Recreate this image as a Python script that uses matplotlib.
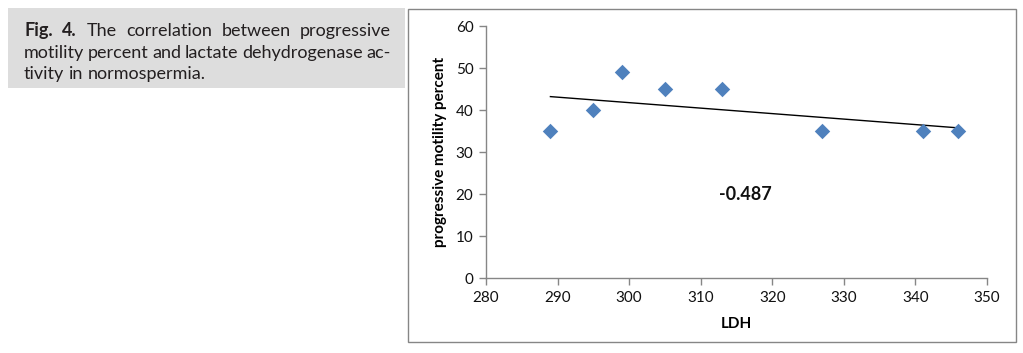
import numpy as np
import matplotlib.pyplot as plt
from matplotlib.patches import Rectangle

# ===================== DADOS =====================
ldh = [289, 295, 299, 305, 313, 327, 341, 346]
motility = [35, 40, 49, 45, 45, 35, 35, 35]
r_text = '-0.487'
x_ticks = [280, 290, 300, 310, 320, 330, 340, 350]
y_ticks = [0, 10, 20, 30, 40, 50, 60]

caption_lines = [
    ['Fig.', '4.', 'The', 'correlation', 'between', 'progressive'],
    ['motility', 'percent', 'and', 'lactate', 'dehydrogenase', 'ac-'],
    ['tivity', 'in', 'normospermia.'],
]

W, H = 1023, 353
fig = plt.figure(figsize=(W / 100, H / 100), dpi=100)

def fx(px):
    return px / W

def fy(py):
    return 1 - py / H

# ===================== LEGENDA (caixa cinza) =====================
fig.patches.append(Rectangle((fx(8), fy(88)), fx(397), 80 / H,
                             transform=fig.transFigure, facecolor='#dddddd',
                             edgecolor='none', zorder=0))

cap_font = 'Lato'
cap_size = 13
x_left, x_right = 24, 391
baselines = [36, 58, 79]
renderer = fig.canvas.get_renderer()
for i, words in enumerate(caption_lines):
    texts = []
    for j, w in enumerate(words):
        bold = (i == 0 and j < 2)
        t = fig.text(0, fy(baselines[i]), w, fontsize=cap_size, family=cap_font,
                     fontweight='bold' if bold else 'normal', color='#231f20',
                     va='baseline', ha='left')
        texts.append(t)
    widths = [t.get_window_extent(renderer).width for t in texts]
    if i < 2:
        gap = (x_right - x_left - sum(widths)) / (len(words) - 1)
    else:
        gap = 4.5
    x = x_left
    for t, wd in zip(texts, widths):
        t.set_x(fx(x))
        x += wd + gap

# ===================== MOLDURA DO GRAFICO =====================
fig.patches.append(Rectangle((fx(408), fy(342)), fx(608), 333 / H,
                             transform=fig.transFigure, facecolor='none',
                             edgecolor='#868686', lw=1.0, zorder=0))

# ===================== GRAFICO =====================
ax = fig.add_axes([fx(486), fy(278), fx(987 - 486), (278 - 26) / H])
ax.scatter(ldh, motility, marker='D', s=62, color='#4f81bd', zorder=3,
           linewidths=0)

coef = np.polyfit(ldh, motility, 1)
xx = np.array([min(ldh), max(ldh)])
ax.plot(xx, np.polyval(coef, xx), color='black', lw=1.0, zorder=2)

ax.set_xlim(280, 350)
ax.set_ylim(0, 60)
ax.set_xticks(x_ticks)
ax.set_yticks(y_ticks)
for s in ['top', 'right']:
    ax.spines[s].set_visible(False)
for s in ['left', 'bottom']:
    ax.spines[s].set_color('#868686')
    ax.spines[s].set_linewidth(1.0)
ax.tick_params(direction='out', length=5, width=1, color='#868686',
               labelsize=11, labelcolor='#111111', pad=4)
for lab in ax.get_xticklabels() + ax.get_yticklabels():
    lab.set_family('Lato')

ax.set_xlabel('LDH', fontsize=11, fontweight='bold', family='Lato', labelpad=9)
ax.set_ylabel('progressive motility percent', fontsize=11, fontweight='bold',
              family='Lato', labelpad=6)
ax.text(316.3, 19.8, r_text, fontsize=13, fontweight='bold', family='Lato',
        ha='center', va='center', color='#111111')

plt.savefig('out.png', dpi=100)
